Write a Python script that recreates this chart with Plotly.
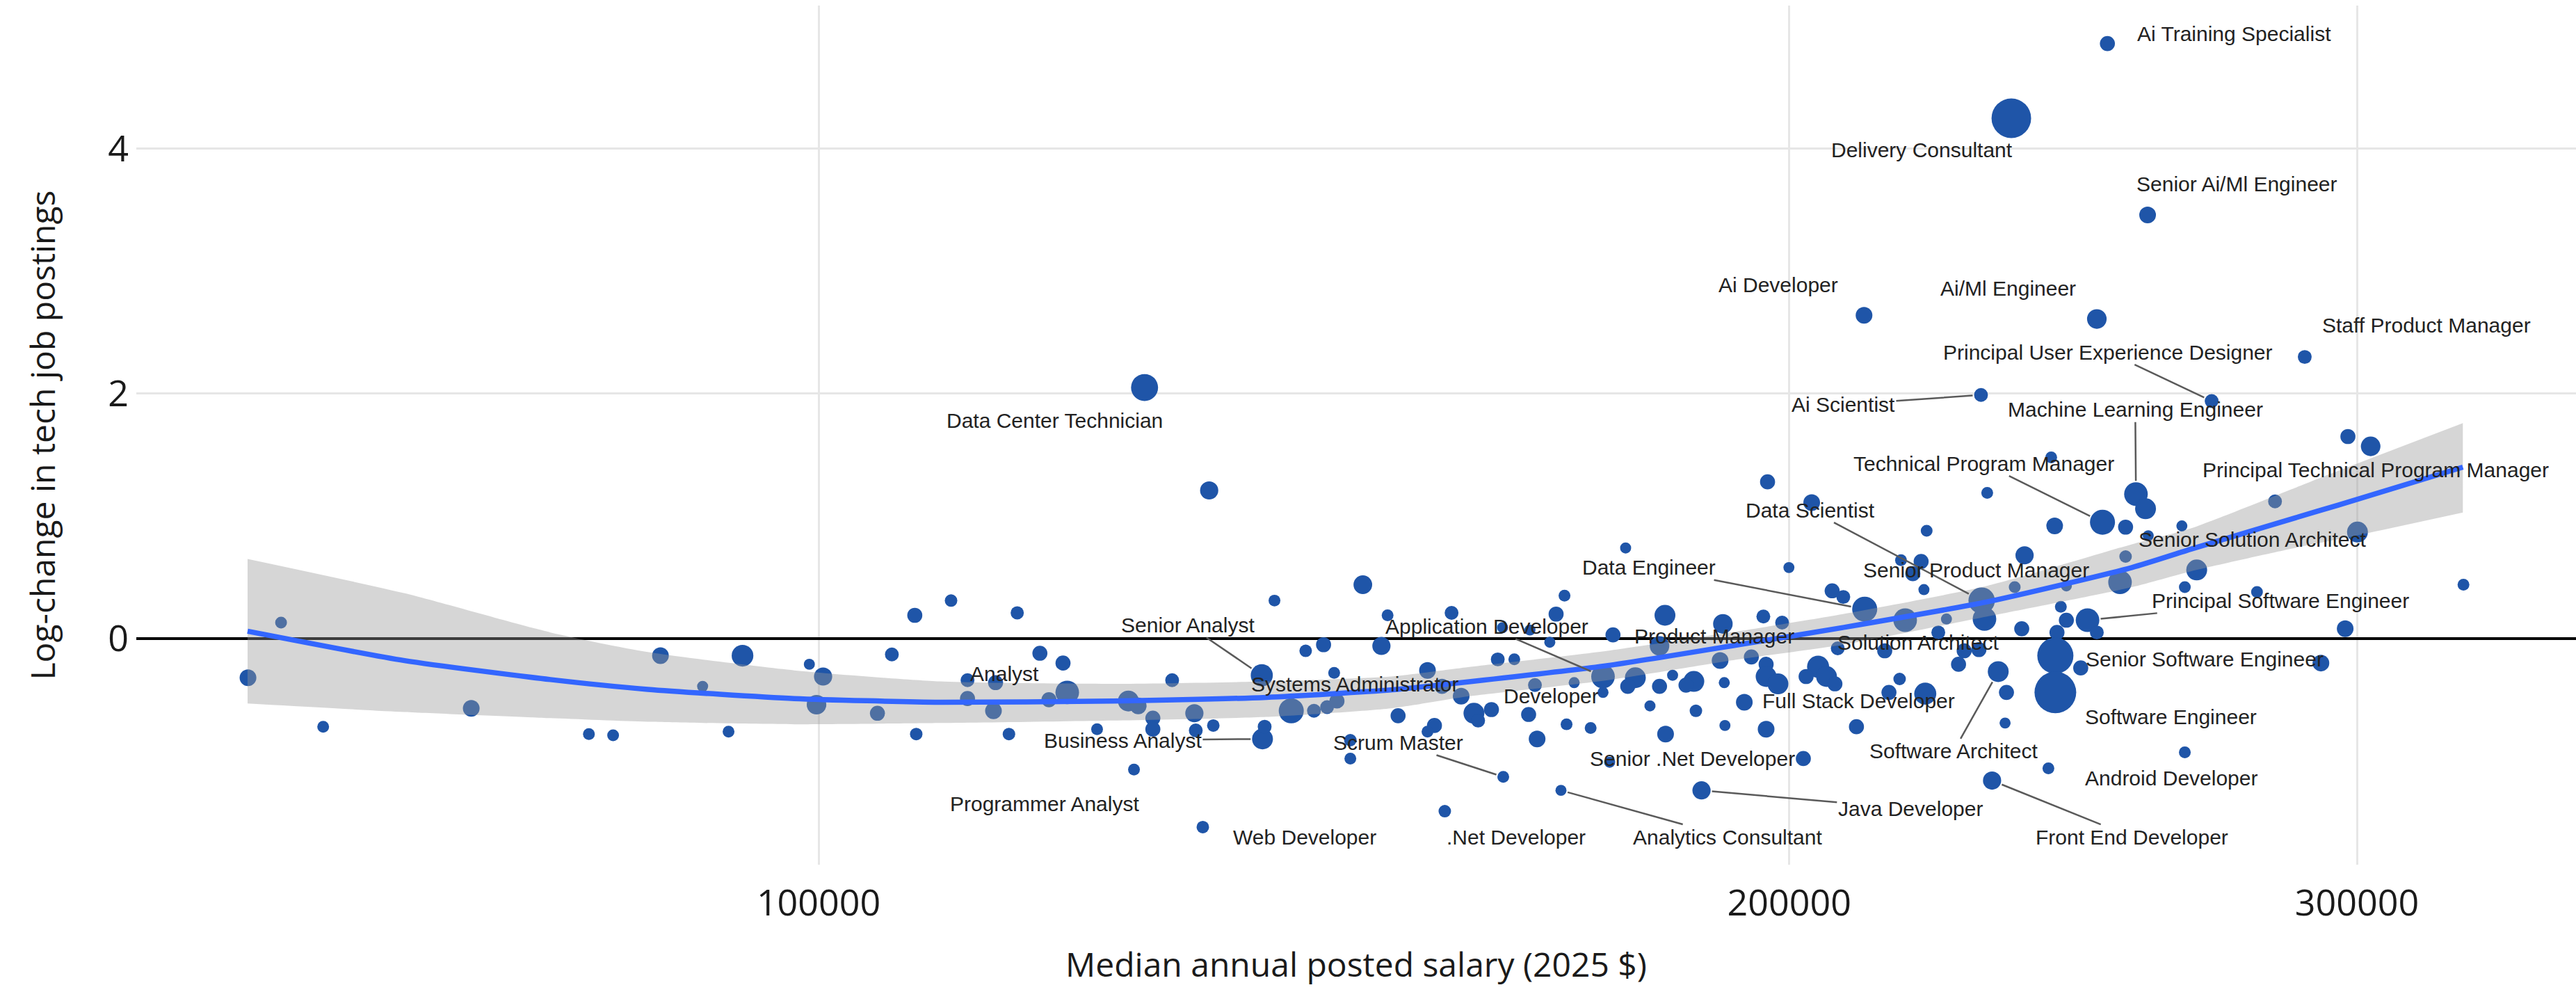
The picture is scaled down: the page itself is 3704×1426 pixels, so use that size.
import numpy as np
import plotly.graph_objects as go

# ---------------- data ----------------
salary = [
    66530, 68120, 70200, 78030, 84870, 86350, 89320, 92050, 93770, 94710,
    99340, 100320, 99850, 104290, 105370, 107110, 109920, 107220, 111220, 111220,
    126210, 132170, 115240, 147500, 138480, 150130, 117120, 119070, 113470, 113300,
    117880, 119430, 114560, 122000, 124760, 125640, 126960, 126960, 128720, 130780,
    130910, 132560, 137230, 137300, 137510, 140150, 141600, 143420, 144510, 142440,
    143780, 144800, 149470, 146190, 146190, 125260, 131570, 151260, 177950, 170350,
    157150, 169330, 183020, 190750, 162980, 166200, 176350, 168570, 182310, 162420,
    164350, 190370, 154470, 175100, 179190, 184020, 186830, 190940, 178220, 182310,
    185790, 166790, 171530, 156080, 158230, 175100, 159680, 161690, 160160, 166040,
    181070, 187110, 170600, 173560, 191030, 183100, 167050, 175930, 163060, 169920,
    187860, 156390, 196930, 203240, 199960, 206230, 207880, 196340, 198990, 207050,
    194670, 196730, 196730, 198400, 204170, 205400, 202430, 206640, 193690, 155240,
    154470, 196730, 202030, 229360, 270430, 241150, 230380, 256200, 257960, 250150,
    254310, 241750, 264740, 282950, 258460, 220630, 236610, 219760, 216620, 218460,
    254310, 220200, 211080, 229470, 229930, 234950, 243780, 253300, 267560, 265300,
    279330, 217270, 223770, 222470, 242820, 243780, 247490, 236130, 242150, 249140,
    214120, 226620, 229020, 225710, 241870, 241870, 246290, 232200, 233570, 216410,
    214770, 220410, 209840, 233340, 265300, 240670, 231180, 298070, 302950, 300110,
    323710, 297490, 292380, 251030, 234380, 258340, 210980, 249140, 289020,
]

log_change = [
    -0.32, 0.13, -0.72, -0.57, -0.78, -0.79, -0.14, -0.39, -0.76, -0.14,
    -0.21, -0.31, -0.54, -0.61, -0.13, 0.19, 0.31, -0.78, -0.34, -0.49,
    2.05, 1.21, 0.21, 0.44, 0.31, 0.19, -0.12, -0.20, -0.36, -0.59,
    -0.50, -0.44, -0.78, -0.74, -0.51, -0.55, -0.65, -0.74, -0.34, -0.61,
    -0.75, -0.71, -0.30, -0.82, -0.72, -0.59, -0.10, -0.05, -0.28, -0.59,
    -0.56, -0.51, -0.06, -0.83, -0.98, -1.07, -1.54, -0.63, 0.74, 0.35,
    0.21, 0.20, 0.19, 0.12, 0.09, 0.07, 0.03, -0.03, -0.06, -0.17,
    -0.17, -0.18, -0.26, -0.31, -0.32, -0.30, -0.35, -0.36, -0.39, -0.39,
    -0.38, -0.38, -0.36, -0.39, -0.47, -0.44, -0.61, -0.58, -0.67, -0.62,
    -0.55, -0.59, -0.70, -0.73, -0.71, -0.78, -0.82, -1.01, -1.13, -1.24,
    -1.24, -1.41, 1.28, 1.11, 0.58, 0.39, 0.34, 0.18, 0.13, -0.08,
    -0.15, -0.21, -0.31, -0.37, -0.23, -0.31, -0.31, -0.37, -0.52, -0.71,
    -0.76, -0.74, -0.98, 1.99, 1.94, 1.48, 1.19, 1.18, 1.06, 0.95,
    0.91, 0.92, 0.92, 1.12, 0.84, 0.88, 0.68, 0.63, 0.64, 0.53,
    0.67, 0.40, 0.24, 0.31, 0.16, 0.42, 0.43, 0.46, 0.56, 0.42,
    0.38, 0.15, 0.16, 0.05, 0.26, 0.15, 0.15, 0.08, 0.05, 0.05,
    -0.10, -0.10, -0.09, -0.21, -0.14, -0.44, -0.24, -0.27, -0.44, -0.33,
    -0.44, -0.45, -0.72, -0.69, -0.93, -1.06, -1.16, 1.65, 1.57, 0.87,
    0.44, 0.08, -0.20, 4.86, 4.25, 3.46, 2.64, 2.61, 2.30,
]

# relative posting volume (thousands) -> marker area
postings_k = [
    16, 8, 8, 16, 8, 8, 16, 7, 8, 27,
    7, 19, 22, 13, 11, 13, 9, 9, 11, 13,
    42, 19, 10, 20, 8, 8, 13, 13, 13, 16,
    13, 32, 9, 8, 25, 16, 13, 13, 11, 19,
    11, 9, 28, 25, 11, 36, 9, 13, 8, 11,
    11, 13, 19, 9, 8, 8, 9, 13, 7, 8,
    11, 13, 25, 22, 7, 7, 13, 7, 22, 11,
    8, 16, 16, 32, 25, 7, 25, 7, 13, 13,
    13, 11, 7, 13, 16, 7, 25, 13, 11, 13,
    7, 9, 8, 8, 7, 16, 16, 7, 8, 7,
    19, 9, 13, 16, 7, 13, 11, 11, 11, 11,
    13, 13, 25, 25, 28, 25, 13, 13, 16, 13,
    8, 16, 13, 11, 11, 8, 8, 32, 25, 36,
    13, 16, 7, 11, 7, 8, 19, 13, 8, 13,
    9, 7, 36, 40, 32, 8, 7, 32, 25, 8,
    8, 32, 7, 11, 8, 13, 32, 13, 13, 11,
    13, 13, 13, 13, 75, 100, 13, 25, 13, 9,
    13, 28, 13, 7, 8, 8, 19, 13, 22, 25,
    8, 16, 16, 13, 90, 16, 16, 22, 11,
]

# smoothed trend and its confidence band
fit_salary = [66510, 74400, 82570, 88510, 98280, 109070, 123380, 137690, 150490, 158230,
              175700, 192900, 207810, 230350, 255450, 266460, 286980, 296010, 323570]
fit_mid = [0.06, -0.18, -0.335, -0.415, -0.49, -0.52, -0.51, -0.48, -0.42, -0.36,
           -0.22, -0.05, 0.09, 0.30, 0.58, 0.73, 0.985, 1.09, 1.40]
fit_lo = [-0.53, -0.60, -0.65, -0.68, -0.70, -0.69, -0.67, -0.64, -0.57, -0.48,
          -0.34, -0.17, -0.05, 0.18, 0.42, 0.55, 0.74, 0.81, 1.03]
fit_hi = [0.65, 0.37, 0.05, -0.11, -0.26, -0.35, -0.37, -0.35, -0.31, -0.24,
          -0.10, 0.06, 0.20, 0.43, 0.77, 0.90, 1.23, 1.37, 1.76]

# labels: text, label centre (salary, value), index of labelled point (None = no leader)
label_text = [
    "Ai Training Specialist", "Delivery Consultant", "Senior Ai/Ml Engineer", "Ai Developer",
    "Ai/Ml Engineer", "Staff Product Manager", "Principal User Experience Designer",
    "Ai Scientist", "Machine Learning Engineer", "Data Center Technician",
    "Technical Program Manager", "Principal Technical Program Manager", "Data Scientist",
    "Data Engineer", "Senior Solution Architect", "Senior Product Manager",
    "Principal Software Engineer", "Product Manager", "Solution Architect",
    "Application Developer", "Senior Analyst", "Analyst", "Systems Administrator",
    "Developer", "Business Analyst", "Scrum Master", "Full Stack Developer",
    "Senior .Net Developer", "Software Engineer", "Senior Software Engineer",
    "Software Architect", "Android Developer", "Java Developer", "Front End Developer",
    "Analytics Consultant", ".Net Developer", "Web Developer", "Programmer Analyst",
]
label_salary = [
    274880, 219870, 275430, 198400, 233810, 315240, 251160, 207880, 256070, 118360,
    229810, 304030, 203030, 180970, 278490, 228560, 284060, 189630, 219250, 161130,
    130190, 114210, 146630, 168740, 124260, 151260, 210150, 186640, 262630, 269100,
    224910, 262760, 218070, 255450, 191400, 164590, 141530, 117520,
]
label_value = [
    4.94, 3.99, 3.71, 2.89, 2.86, 2.56, 2.34, 1.91, 1.87, 1.78,
    1.43, 1.38, 1.05, 0.58, 0.81, 0.56, 0.31, 0.02, -0.03, 0.10,
    0.11, -0.29, -0.37, -0.47, -0.83, -0.85, -0.51, -0.98, -0.64, -0.17,
    -0.92, -1.14, -1.39, -1.62, -1.62, -1.62, -1.62, -1.35,
]
label_target = [
    None, None, None, None, None, None, 124, 123, 127, None,
    129, None, 143, 142, None, None, 156, None, None, 73,
    42, None, None, None, 43, 98, None, None, None, None,
    167, None, 100, 176, 99, None, None, None,
]

x_ticks = [100000, 200000, 300000]
y_ticks = [0, 2, 4]
x_title = "Median annual posted salary (2025 $)"
y_title = "Log-change in tech job postings"

# ---------------- figure ----------------
diam = 6 * np.sqrt(np.array(postings_k, dtype=float))

fig = go.Figure()
fig.add_trace(go.Scatter(
    x=salary, y=log_change, mode="markers",
    marker=dict(size=diam, sizemode="diameter", color="#1F55A8", opacity=1,
                line=dict(width=0)),
    hoverinfo="skip", showlegend=False,
))
fig.add_trace(go.Scatter(
    x=fit_salary, y=fit_lo, mode="lines", line=dict(width=0, shape="spline", smoothing=0.6),
    hoverinfo="skip", showlegend=False,
))
fig.add_trace(go.Scatter(
    x=fit_salary, y=fit_hi, mode="lines", line=dict(width=0, shape="spline", smoothing=0.6),
    fill="tonexty", fillcolor="rgba(153,153,153,0.4)", hoverinfo="skip", showlegend=False,
))
fig.add_trace(go.Scatter(
    x=fit_salary, y=fit_mid, mode="lines",
    line=dict(color="#3366FF", width=7.5, shape="spline", smoothing=0.6),
    hoverinfo="skip", showlegend=False,
))

label_font = dict(family="Liberation Sans, Arial, sans-serif", size=30, color="#222222")
annotations = []
for txt, ls, lv, tgt in zip(label_text, label_salary, label_value, label_target):
    if tgt is None:
        annotations.append(dict(
            x=np.log10(ls), y=lv, xref="x", yref="y", text=txt, showarrow=False,
            xanchor="center", yanchor="middle", font=label_font,
        ))
    else:
        annotations.append(dict(
            x=np.log10(salary[tgt]), y=log_change[tgt], xref="x", yref="y",
            ax=np.log10(ls), ay=lv, axref="x", ayref="y",
            text=txt, showarrow=True, arrowhead=0, arrowwidth=2.5, arrowcolor="#5a5a5a",
            standoff=float(diam[tgt]) / 2 + 2, font=label_font,
        ))

axis_font = dict(family="Open Sans, Noto Sans, sans-serif", size=52, color="#1a1a1a")
title_font = dict(family="Open Sans, Noto Sans, sans-serif", size=48, color="#1a1a1a")

fig.update_layout(
    width=3704, height=1426, autosize=False,
    margin=dict(l=196, r=0, t=8, b=183),
    paper_bgcolor="white", plot_bgcolor="white",
    showlegend=False,
    annotations=annotations,
    xaxis=dict(
        type="log", range=[np.log10(61430), np.log10(350800)],
        tickvals=x_ticks, ticktext=[str(v) for v in x_ticks],
        showgrid=True, gridcolor="#e6e6e6", gridwidth=2.5,
        zeroline=False, showline=False, ticks="", tickfont=axis_font,
        ticklabelstandoff=20, automargin=False,
        title=dict(text=x_title, font=title_font, standoff=40),
    ),
    yaxis=dict(
        range=[-1.847, 5.17], tickvals=y_ticks, ticktext=[str(v) for v in y_ticks],
        showgrid=True, gridcolor="#e6e6e6", gridwidth=2.5,
        zeroline=True, zerolinecolor="black", zerolinewidth=4,
        showline=False, ticks="", tickfont=axis_font,
        ticklabelstandoff=10, automargin=False,
        title=dict(text=y_title, font=title_font, standoff=60),
    ),
)

fig.write_html("out.html")
